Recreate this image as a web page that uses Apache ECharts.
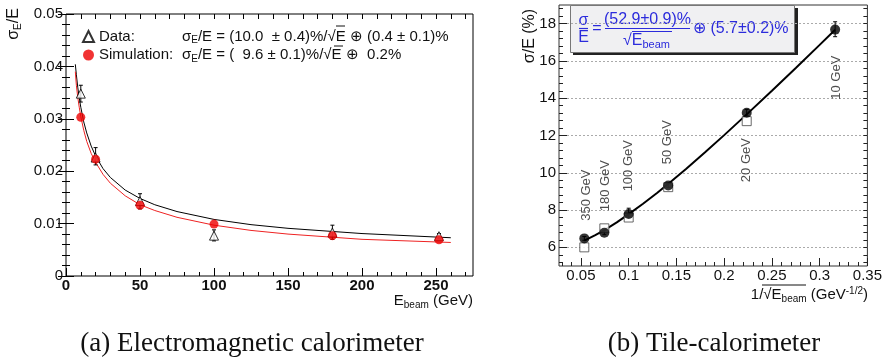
<!DOCTYPE html>
<html>
<head>
<meta charset="utf-8">
<script src="https://cdn.jsdelivr.net/npm/echarts@6/dist/echarts.min.js"></script>
<style>
html, body { margin: 0; padding: 0; background: #fff; }
#chart { width: 885px; height: 360px; }
</style>
</head>
<body>
<div id="chart"></div>
<script>
// (a) electromagnetic calorimeter, sigma_E/E vs beam energy (GeV)
const emEnergy = [10, 20, 50, 100, 180, 252]
const emData = [0.0348, 0.0226, 0.0143, 0.0077, 0.0083, 0.0076]
const emDataLow = [0.0332, 0.0212, 0.0128, 0.0067, 0.0070, 0.0071]
const emDataHigh = [0.0364, 0.0245, 0.0157, 0.0088, 0.0097, 0.0081]
const emSim = [0.0303, 0.0223, 0.0135, 0.0099, 0.0077, 0.0069]

// fitted curves
const emFitEnergy = [6.3, 7, 8, 9, 10, 12, 14, 17, 20, 25, 30, 40, 50, 60, 75, 100, 125, 150, 200, 260]
const emDataFit = [0.0404, 0.0384, 0.0359, 0.0339, 0.0322, 0.0294, 0.0273, 0.0248, 0.0229, 0.0205,
  0.0188, 0.0164, 0.0148, 0.0136, 0.0123, 0.0108, 0.0098, 0.0091, 0.0081, 0.0073]
const emSimFit = [0.0390, 0.0364, 0.0340, 0.0321, 0.0304, 0.0278, 0.0257, 0.0234, 0.0217, 0.0194,
  0.0177, 0.0153, 0.0136, 0.0125, 0.0112, 0.0097, 0.0087, 0.0080, 0.0070, 0.0064]

const emXTicks = [0, 50, 100, 150, 200, 250]
const emXMinor = [10, 20, 30, 40, 60, 70, 80, 90, 110, 120, 130, 140, 160, 170, 180, 190, 210, 220, 230, 240, 260, 270]
const emXTop = [10, 20, 30, 40, 50, 60, 70, 80, 90, 100, 110, 120, 130, 140, 150, 160, 170, 180, 190, 200, 210, 220, 230, 240, 250, 260, 270]

// (b) tile calorimeter, sigma/E (%) vs 1/sqrt(E)
const tileX = [0.0535, 0.0745, 0.1, 0.1414, 0.2236, 0.3162]
const tileData = [6.48, 6.78, 7.79, 9.32, 13.22, 17.68]
const tileLow = [6.38, 6.68, 7.62, 9.22, 13.05, 17.30]
const tileHigh = [6.58, 6.90, 8.10, 9.42, 13.40, 18.10]
const tileSimX = [0.0535, 0.0745, 0.1, 0.1414, 0.2236]
const tileSim = [6.0, 7.02, 7.6, 9.23, 12.77]
const tileFitX = [0.0535, 0.065, 0.075, 0.0875, 0.1, 0.115, 0.13, 0.145, 0.16, 0.18, 0.2, 0.225, 0.25, 0.275, 0.3, 0.3162]
const tileFit = [6.36, 6.66, 6.94, 7.34, 7.78, 8.34, 8.93, 9.56, 10.2, 11.1, 12.02, 13.2, 14.4, 15.62, 16.86, 17.67]

const tagText = ['350 GeV', '180 GeV', '100 GeV', '50 GeV', '20 GeV', '10 GeV']
const tagX = [0.0558, 0.0753, 0.0995, 0.141, 0.2237, 0.318]
const tagY = [8.8, 9.31, 10.38, 11.64, 10.68, 15.1]

const tileXTicks = [0.05, 0.1, 0.15, 0.2, 0.25, 0.3, 0.35]
const tileXMinor = [0.03, 0.04, 0.06, 0.07, 0.08, 0.09, 0.11, 0.12, 0.13, 0.14, 0.16, 0.17, 0.18, 0.19,
  0.21, 0.22, 0.23, 0.24, 0.26, 0.27, 0.28, 0.29, 0.31, 0.32, 0.33, 0.34]
const tileYTicks = [6, 8, 10, 12, 14, 16, 18]
const tileYMinor = [5.2, 5.6, 6.4, 6.8, 7.2, 7.6, 8.4, 8.8, 9.2, 9.6, 10.4, 10.8, 11.2, 11.6, 12.4, 12.8,
  13.2, 13.6, 14.4, 14.8, 15.2, 15.6, 16.4, 16.8, 17.2, 17.6, 18.4, 18.8]

const FONT = 'Liberation Sans, Arial, sans-serif'
const SERIF = 'Liberation Serif, Times New Roman, serif'
const BLUE = '#2b2bdc'

const chart = echarts.init(document.getElementById('chart'))

function pairs(xs, ys) {
  return xs.map((x, i) => [x, ys[i]])
}

function errorBars(xs, lo, hi, xi, yi) {
  return {
    type: 'custom',
    xAxisIndex: xi,
    yAxisIndex: yi,
    silent: true,
    z: 3,
    data: xs.map((x, i) => [x, lo[i], hi[i]]),
    renderItem(params, api) {
      const top = api.coord([api.value(0), api.value(2)])
      const bot = api.coord([api.value(0), api.value(1)])
      const st = { stroke: '#000', lineWidth: 1 }
      return {
        type: 'group',
        children: [
          { type: 'line', shape: { x1: top[0], y1: top[1], x2: bot[0], y2: bot[1] }, style: st },
          { type: 'line', shape: { x1: top[0] - 2, y1: top[1], x2: top[0] + 2, y2: top[1] }, style: st },
          { type: 'line', shape: { x1: bot[0] - 2, y1: bot[1], x2: bot[0] + 2, y2: bot[1] }, style: st }
        ]
      }
    }
  }
}

const axisLine = { show: false }
const txt = { fontFamily: FONT, fontSize: 15, color: '#111' }

const sub = { fontFamily: FONT, fontSize: 10, verticalAlign: 'bottom', lineHeight: 10 }
const norm = { fontFamily: FONT, fontSize: 15, lineHeight: 18 }

const option = {
  animation: false,
  grid: [
    { left: 66, top: 14, width: 407, height: 262, show: true, borderColor: '#000', borderWidth: 1 },
    { left: 559, top: 5, width: 309, height: 261, show: true, borderColor: '#333', borderWidth: 1 }
  ],
  xAxis: [
    {
      gridIndex: 0, type: 'value', position: 'bottom', min: 0, max: 275, axisLine,
      axisTick: { inside: true, length: 8, customValues: emXTicks, lineStyle: { color: '#000' } },
      axisLabel: { customValues: emXTicks, margin: 2, ...txt, fontWeight: 'bold' },
      splitLine: { show: false }
    },
    {
      gridIndex: 0, type: 'value', position: 'bottom', min: 0, max: 275, axisLine,
      axisTick: { inside: true, length: 4, customValues: emXMinor, lineStyle: { color: '#000' } },
      axisLabel: { show: false }, splitLine: { show: false }
    },
    {
      gridIndex: 0, type: 'value', position: 'top', min: 0, max: 275, axisLine,
      axisTick: { inside: true, length: 5, customValues: emXTop, lineStyle: { color: '#000' } },
      axisLabel: { show: false }, splitLine: { show: false }
    },
    {
      gridIndex: 1, type: 'value', position: 'bottom', min: 0.027, max: 0.35, axisLine,
      axisTick: { inside: true, length: 8, customValues: tileXTicks, lineStyle: { color: '#222' } },
      axisLabel: { customValues: tileXTicks, margin: 2, ...txt },
      splitLine: { show: false }
    },
    {
      gridIndex: 1, type: 'value', position: 'bottom', min: 0.027, max: 0.35, axisLine,
      axisTick: { inside: true, length: 4, customValues: tileXMinor, lineStyle: { color: '#222' } },
      axisLabel: { show: false }, splitLine: { show: false }
    }
  ],
  yAxis: [
    {
      gridIndex: 0, type: 'value', position: 'left', min: 0, max: 0.05, interval: 0.01, axisLine,
      axisTick: { inside: true, length: 8, lineStyle: { color: '#000' } },
      minorTick: { show: true, splitNumber: 5, length: 4, lineStyle: { color: '#000' } },
      axisLabel: { margin: 3, ...txt, formatter: (v) => (v === 0 ? '0' : v.toFixed(2)) },
      splitLine: { show: false }
    },
    {
      gridIndex: 0, type: 'value', position: 'right', min: 0, max: 0.05, interval: 0.01, axisLine,
      axisTick: { inside: true, length: 8, lineStyle: { color: '#000' } },
      minorTick: { show: true, splitNumber: 5, length: 4, lineStyle: { color: '#000' } },
      axisLabel: { show: false }, splitLine: { show: false }
    },
    {
      gridIndex: 1, type: 'value', position: 'left', min: 5, max: 19, axisLine,
      axisTick: { inside: true, length: 8, customValues: tileYTicks, lineStyle: { color: '#222' } },
      axisLabel: { customValues: tileYTicks, margin: 3, ...txt },
      splitLine: { show: true, lineStyle: { color: '#aaa', type: [2, 2], width: 1 } }
    },
    {
      gridIndex: 1, type: 'value', position: 'left', min: 5, max: 19, axisLine,
      axisTick: { inside: true, length: 4, customValues: tileYMinor, lineStyle: { color: '#222' } },
      axisLabel: { show: false }, splitLine: { show: false }
    },
    {
      gridIndex: 1, type: 'value', position: 'right', min: 5, max: 19, axisLine,
      axisTick: { inside: true, length: 4, customValues: tileYMinor.concat(tileYTicks), lineStyle: { color: '#222' } },
      axisLabel: { show: false }, splitLine: { show: false }
    }
  ],
  legend: {
    left: 77, top: 24, orient: 'vertical', itemWidth: 11, itemHeight: 11, itemGap: 2,
    data: ['Data', 'Simulation'],
    selectedMode: false,
    formatter(name) {
      if (name === 'Data') {
        return '{n|Data:}{f|σ}{s|E}{f|/E = (10.0  ± 0.4)%/√E ⊕ (0.4 ± 0.1)%}'
      }
      return '{n|Simulation:}{f|σ}{s|E}{f|/E = (  9.6 ± 0.1)%/√E ⊕  0.2%}'
    },
    textStyle: {
      color: '#111',
      rich: { n: { ...norm, width: 83 }, f: norm, s: sub }
    }
  },
  series: [
    {
      name: 'DataFit', type: 'line', xAxisIndex: 0, yAxisIndex: 0, smooth: false,
      symbol: 'none', data: pairs(emFitEnergy, emDataFit), lineStyle: { color: '#000', width: 1 }, z: 2
    },
    {
      name: 'SimFit', type: 'line', xAxisIndex: 0, yAxisIndex: 0, smooth: false,
      symbol: 'none', data: pairs(emFitEnergy, emSimFit), lineStyle: { color: '#ee2222', width: 1 }, z: 2
    },
    errorBars(emEnergy, emDataLow, emDataHigh, 0, 0),
    {
      name: 'Data', type: 'scatter', xAxisIndex: 0, yAxisIndex: 0, symbol: 'triangle', symbolSize: 9,
      data: pairs(emEnergy, emData),
      itemStyle: { color: '#fff', borderColor: '#000', borderWidth: 1 }, z: 4
    },
    {
      name: 'Simulation', type: 'scatter', xAxisIndex: 0, yAxisIndex: 0, symbol: 'circle', symbolSize: 9,
      data: pairs(emEnergy, emSim), itemStyle: { color: '#ee0000' }, z: 5
    },
    {
      name: 'TileFit', type: 'line', xAxisIndex: 3, yAxisIndex: 2, smooth: false,
      symbol: 'none', data: pairs(tileFitX, tileFit), lineStyle: { color: '#000', width: 2 }, z: 2
    },
    {
      name: 'TileSim', type: 'scatter', xAxisIndex: 3, yAxisIndex: 2, symbol: 'rect', symbolSize: 9,
      data: pairs(tileSimX, tileSim), itemStyle: { color: '#fff', borderColor: '#444', borderWidth: 1 }, z: 3
    },
    errorBars(tileX, tileLow, tileHigh, 3, 2),
    {
      name: 'TileData', type: 'scatter', xAxisIndex: 3, yAxisIndex: 2, symbol: 'circle', symbolSize: 10,
      data: pairs(tileX, tileData), itemStyle: { color: '#000' }, z: 5
    },
    {
      name: 'Tags', type: 'scatter', xAxisIndex: 3, yAxisIndex: 2, symbolSize: 0, silent: true,
      data: tagX.map((x, i) => ({ value: [x, tagY[i]], name: tagText[i] })),
      label: {
        show: true, position: 'inside', rotate: 90, formatter: '{b}',
        fontFamily: FONT, fontSize: 13, color: '#222'
      }
    }
  ],
  graphic: [
    // axis titles
    {
      type: 'text', x: 14, y: 24, rotation: Math.PI / 2,
      style: { text: '{a|σ}{s|E}{a|/E}', align: 'center', verticalAlign: 'middle', fill: '#111',
        rich: { a: { ...norm, fontSize: 16 }, s: sub } }
    },
    {
      type: 'text', x: 530, y: 36, rotation: Math.PI / 2,
      style: { text: 'σ/E (%)', align: 'center', verticalAlign: 'middle', fill: '#111', font: '16px ' + FONT }
    },
    {
      type: 'text', x: 473, y: 301,
      style: { text: '{a|E}{s|beam}{a| (GeV)}', align: 'right', verticalAlign: 'middle', fill: '#111',
        rich: { a: norm, s: sub } }
    },
    {
      type: 'text', x: 868, y: 295,
      style: { text: '{a|1/√E}{s|beam}{a| (GeV}{p|-1/2}{a|)}', align: 'right', verticalAlign: 'middle', fill: '#111',
        rich: { a: norm, s: sub, p: { fontFamily: FONT, fontSize: 10, verticalAlign: 'top', lineHeight: 10 } } }
    },
    { type: 'line', shape: { x1: 762, y1: 285, x2: 806, y2: 285 }, style: { stroke: '#111', lineWidth: 1 } },
    // sqrt bars in the legend
    { type: 'line', shape: { x1: 336, y1: 26, x2: 345, y2: 26 }, style: { stroke: '#111', lineWidth: 1 } },
    { type: 'line', shape: { x1: 334, y1: 46, x2: 343, y2: 46 }, style: { stroke: '#111', lineWidth: 1 } },
    // formula box of the tile calorimeter
    { type: 'rect', shape: { x: 573, y: 8, width: 225, height: 47 }, style: { fill: '#222' } },
    { type: 'rect', shape: { x: 570.5, y: 5.5, width: 224, height: 47 }, style: { fill: '#f0f0f2', stroke: '#777', lineWidth: 1 } },
    { type: 'text', x: 583.5, y: 21, style: { text: 'σ', align: 'center', verticalAlign: 'middle', fill: BLUE, font: '16px ' + FONT } },
    { type: 'line', shape: { x1: 579, y1: 28.5, x2: 588, y2: 28.5 }, style: { stroke: BLUE, lineWidth: 1.2 } },
    { type: 'text', x: 583.5, y: 37.5, style: { text: 'E', align: 'center', verticalAlign: 'middle', fill: BLUE, font: '16px ' + FONT } },
    { type: 'text', x: 597, y: 28.5, style: { text: '=', align: 'center', verticalAlign: 'middle', fill: BLUE, font: '16px ' + FONT } },
    { type: 'text', x: 647.5, y: 20, style: { text: '(52.9±0.9)%', align: 'center', verticalAlign: 'middle', fill: BLUE, font: '16px ' + FONT } },
    { type: 'line', shape: { x1: 605, y1: 28.5, x2: 690, y2: 28.5 }, style: { stroke: BLUE, lineWidth: 1.2 } },
    {
      type: 'text', x: 623, y: 41,
      style: { text: '{a|√E}{s|beam}', align: 'left', verticalAlign: 'middle', fill: BLUE,
        rich: { a: { ...norm, fontSize: 16 }, s: { ...sub, fontSize: 11 } } }
    },
    { type: 'line', shape: { x1: 632, y1: 31.5, x2: 672, y2: 31.5 }, style: { stroke: BLUE, lineWidth: 1 } },
    { type: 'text', x: 693, y: 28.5, style: { text: '⊕ (5.7±0.2)%', align: 'left', verticalAlign: 'middle', fill: BLUE, font: '16px ' + FONT } },
    // captions
    {
      type: 'text', x: 252, y: 344,
      style: { text: '(a) Electromagnetic calorimeter', align: 'center', verticalAlign: 'middle', fill: '#111', font: '27px ' + SERIF }
    },
    {
      type: 'text', x: 714, y: 344,
      style: { text: '(b) Tile-calorimeter', align: 'center', verticalAlign: 'middle', fill: '#111', font: '27px ' + SERIF }
    }
  ]
}

chart.setOption(option)
</script>
</body>
</html>
